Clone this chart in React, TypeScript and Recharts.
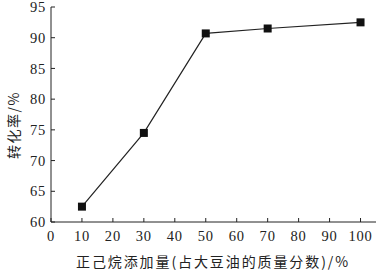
import { LineChart, Line, XAxis, YAxis, Label } from 'recharts';

// 正己烷添加量 (%) vs 转化率 (%)
const hexaneAdded = [10, 30, 50, 70, 100];
const conversion = [62.5, 74.5, 90.7, 91.5, 92.5];
const xTicks = [0, 10, 20, 30, 40, 50, 60, 70, 80, 90, 100];
const yTicks = [60, 65, 70, 75, 80, 85, 90, 95];

const data = hexaneAdded.map((x, i) => ({ x, y: conversion[i] }));

const tickStyle = { fill: '#222', fontSize: 14.5, fontFamily: 'Liberation Serif', letterSpacing: 0.8 };
const titleFont = { fill: '#222', fontSize: 14, fontFamily: 'Noto Sans CJK SC' };

const SquareDot = (props: any) => {
  const { cx, cy } = props;
  if (cx == null || cy == null) return null;
  return <rect x={cx - 4} y={cy - 4} width={8} height={8} fill='#111' />;
};

export default function App() {
  return (
    <div style={{ position: 'absolute', left: 0, top: 0 }}>
      <LineChart
        width={380}
        height={271}
        data={data}
        margin={{ top: 7, right: 4, left: 0, bottom: 0 }}
      >
        <XAxis
          type='number'
          dataKey='x'
          domain={[0, 105]}
          ticks={xTicks}
          height={49}
          tickSize={-4}
          tickMargin={13}
          stroke='#222'
          tick={tickStyle}
          interval={0}
        >
          <Label
            content={() => (
              <text x={213} y={267} textAnchor='middle' letterSpacing={1.9} {...titleFont}>
                正己烷添加量(占大豆油的质量分数)/%
              </text>
            )}
          />
        </XAxis>
        <YAxis
          type='number'
          domain={[60, 95]}
          ticks={yTicks}
          width={51}
          tickSize={-4}
          tickMargin={9}
          stroke='#222'
          tick={tickStyle}
          interval={0}
        >
          <Label
            content={() => (
              <text
                x={19}
                y={125}
                textAnchor='middle'
                transform='rotate(-90 19 125)'
                letterSpacing={1.5}
                {...titleFont}
              >
                转化率/%
              </text>
            )}
          />
        </YAxis>
        <Line
          dataKey='y'
          stroke='#222'
          strokeWidth={1.2}
          dot={<SquareDot />}
          activeDot={false}
          isAnimationActive={false}
        />
      </LineChart>
    </div>
  );
}
